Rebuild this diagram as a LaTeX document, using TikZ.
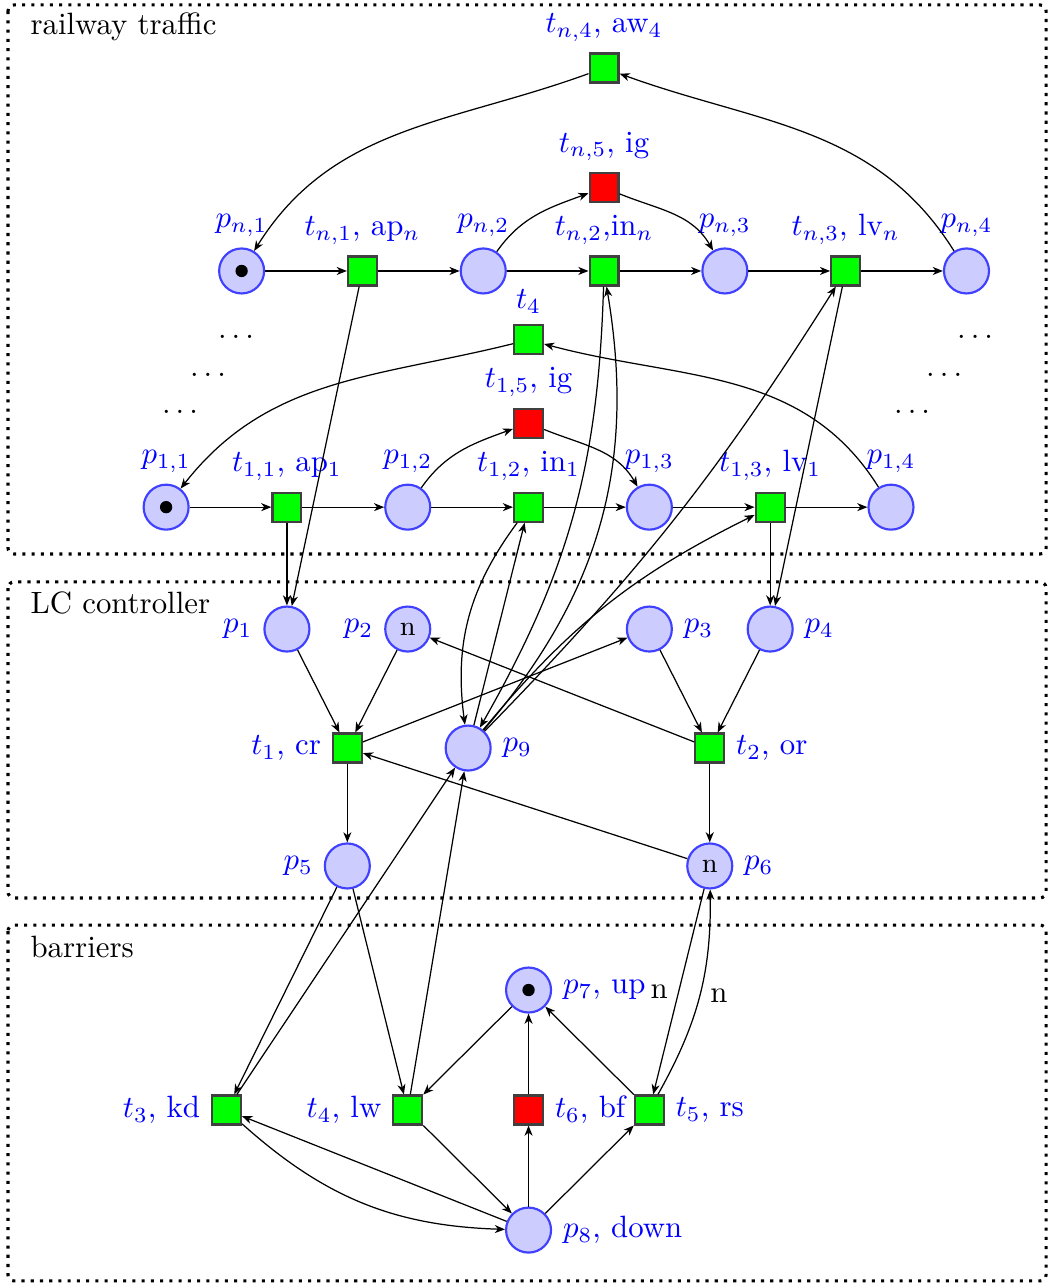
\documentclass[tikz,border=0pt]{standalone}
\usepackage{tikz}
\usetikzlibrary{arrows.meta}

\begin{document}
\begin{tikzpicture}[x=1.378cm,y=1.378cm,
  place/.style={circle,draw=blue!75,fill=blue!20,line width=0.7pt,minimum size=14.6pt,inner sep=0pt},
  trans/.style={rectangle,draw=black!75,fill=green,line width=0.7pt,minimum size=9.4pt,inner sep=0pt},
  redtrans/.style={trans,fill=red},
  arc/.style={->,>={Stealth[length=3.3pt,width=2.6pt,inset=1pt]}},
  every label/.style={text=blue},
  region/.style={dotted,line width=1pt,rounded corners=2pt},
  regionname/.style={anchor=base west,inner sep=0pt}]
\useasboundingbox (0,-8.377) rectangle (8.7003,2.243);

% regions
\draw[region] (0.066,2.202) rectangle (8.659,-2.343);
\node[regionname] at (0.248,1.954) {railway traffic};
\draw[region] (0.066,-2.574) rectangle (8.659,-5.19);
\node[regionname] at (0.248,-2.839) {LC controller};
\draw[region] (0.066,-5.414) rectangle (8.659,-8.36);
\node[regionname] at (0.248,-5.679) {barriers};

% railway traffic, train n
\node[place,label=above:$p_{n,1}$] (pn1) at (2,0) {};
\node[trans,label={above:{$t_{n,1}$, ap$_n$}}] (tn1) at (3,0) {};
\node[place,label=above:$p_{n,2}$] (pn2) at (4,0) {};
\node[trans,label={above:{$t_{n,2}$,in$_n$}}] (tn2) at (5,0) {};
\node[place,label=above:$p_{n,3}$] (pn3) at (6,0) {};
\node[trans,label={above:{$t_{n,3}$, lv$_n$}}] (tn3) at (7,0) {};
\node[place,label=above:$p_{n,4}$] (pn4) at (8,0) {};
\node[redtrans,label={above:{$t_{n,5}$, ig}}] (tn5) at (5,0.69) {};
\node[trans,label={above:{$t_{n,4}$, aw$_4$}}] (tn4) at (5,1.68) {};
\fill (pn1) circle (2pt);

% railway traffic, train 1
\node[place,label=above:$p_{1,1}$] (p11) at (1.375,-1.955) {};
\node[trans,label={above:{$t_{1,1}$, ap$_1$}}] (t11) at (2.375,-1.955) {};
\node[place,label=above:$p_{1,2}$] (p12) at (3.375,-1.955) {};
\node[trans,label={above:{$t_{1,2}$, in$_1$}}] (t12) at (4.375,-1.955) {};
\node[place,label=above:$p_{1,3}$] (p13) at (5.375,-1.955) {};
\node[trans,label={above:{$t_{1,3}$, lv$_1$}}] (t13) at (6.375,-1.955) {};
\node[place,label=above:$p_{1,4}$] (p14) at (7.375,-1.955) {};
\node[redtrans,label={above:{$t_{1,5}$, ig}}] (t15) at (4.375,-1.26) {};
\node[trans,label=above:$t_4$] (t14) at (4.375,-0.57) {};
\fill (p11) circle (2pt);

\node at (1.954,-0.546) {$\ldots$};
\node at (1.722,-0.861) {$\ldots$};
\node at (1.49,-1.167) {$\ldots$};
\node at (8.071,-0.546) {$\ldots$};
\node at (7.815,-0.861) {$\ldots$};
\node at (7.55,-1.167) {$\ldots$};

% LC controller
\node[place,label=left:$p_1$] (p1) at (2.375,-2.964) {};
\node[place,label=left:$p_2$] (p2) at (3.375,-2.964) {\small n};
\node[place,label=right:$p_3$] (p3) at (5.375,-2.964) {};
\node[place,label=right:$p_4$] (p4) at (6.375,-2.964) {};
\node[trans,label={left:{$t_1$, cr}}] (t1) at (2.875,-3.949) {};
\node[place,label=right:$p_9$] (p9) at (3.875,-3.949) {};
\node[trans,label={right:{$t_2$, or}}] (t2) at (5.875,-3.949) {};
\node[place,label=left:$p_5$] (p5) at (2.875,-4.925) {};
\node[place,label=right:$p_6$] (p6) at (5.875,-4.925) {\small n};

% barriers
\node[place,label={right:{$p_7$, up}}] (p7) at (4.375,-5.952) {};
\node[trans,label={left:{$t_3$, kd}}] (t3) at (1.875,-6.945) {};
\node[trans,label={left:{$t_4$, lw}}] (t4) at (3.375,-6.945) {};
\node[redtrans,label={right:{$t_6$, bf}}] (t6) at (4.375,-6.945) {};
\node[trans,label={right:{$t_5$, rs}}] (t5) at (5.375,-6.945) {};
\node[place,label={right:{$p_8$, down}}] (p8) at (4.375,-7.939) {};
\fill (p7) circle (2pt);

% arcs of the trains
\draw[arc] (pn1) -- (tn1);
\draw[arc] (tn1) -- (pn2);
\draw[arc] (pn2) -- (tn2);
\draw[arc] (tn2) -- (pn3);
\draw[arc] (pn3) -- (tn3);
\draw[arc] (tn3) -- (pn4);
\draw[arc] (pn2) to[out=55,in=200] (tn5);
\draw[arc] (tn5) to[out=-22,in=120] (pn3);
\draw[arc] (pn4) to[out=122,in=-20] (tn4);
\draw[arc] (tn4) to[out=200,in=58] (pn1);

\draw[arc] (p11) -- (t11);
\draw[arc] (t11) -- (p12);
\draw[arc] (p12) -- (t12);
\draw[arc] (t12) -- (p13);
\draw[arc] (p13) -- (t13);
\draw[arc] (t13) -- (p14);
\draw[arc] (p12) to[out=55,in=200] (t15);
\draw[arc] (t15) to[out=-22,in=120] (p13);
\draw[arc] (p14) to[out=122,in=-15] (t14);
\draw[arc] (t14) to[out=194,in=52] (p11);

% arcs to the controller
\draw[arc] (t11) -- (p1);
\draw[arc] (tn1) -- (p1);
\draw[arc] (t13) -- (p4);
\draw[arc] (tn3) -- (p4);
\draw[arc] (t12) to[bend right=22] (p9);
\draw[arc] (p9) -- (t12);
\draw[arc] (tn2) to[bend left=14] (p9);
\draw[arc] (p9) to[bend right=25] (tn2);
\draw[arc] (p9) to[bend right=6] (tn3);
\draw[arc] (p9) to[bend left=12] (t13);

% LC controller arcs
\draw[arc] (p1) -- (t1);
\draw[arc] (p2) -- (t1);
\draw[arc] (t1) -- (p3);
\draw[arc] (t2) -- (p2);
\draw[arc] (p3) -- (t2);
\draw[arc] (p4) -- (t2);
\draw[arc] (t1) -- (p5);
\draw[arc] (t2) -- (p6);
\draw[arc] (p6) -- (t1);

% barriers arcs
\draw[arc] (p5) -- (t3);
\draw[arc] (p5) -- (t4);
\draw[arc] (t3) -- (p9);
\draw[arc] (t4) -- (p9);
\draw[arc] (p7) -- (t4);
\draw[arc] (t6) -- (p7);
\draw[arc] (t5) -- (p7);
\draw[arc] (p8) -- (t6);
\draw[arc] (p8) -- (t5);
\draw[arc] (t4) -- (p8);
\draw[arc] (p8) -- (t3);
\draw[arc] (t3) to[bend right=20] (p8);
\draw[arc] (p6) -- node[left] {n} (t5);
\draw[arc] (t5) to[bend right=15] node[right] {n} (p6);
\end{tikzpicture}
\end{document}
